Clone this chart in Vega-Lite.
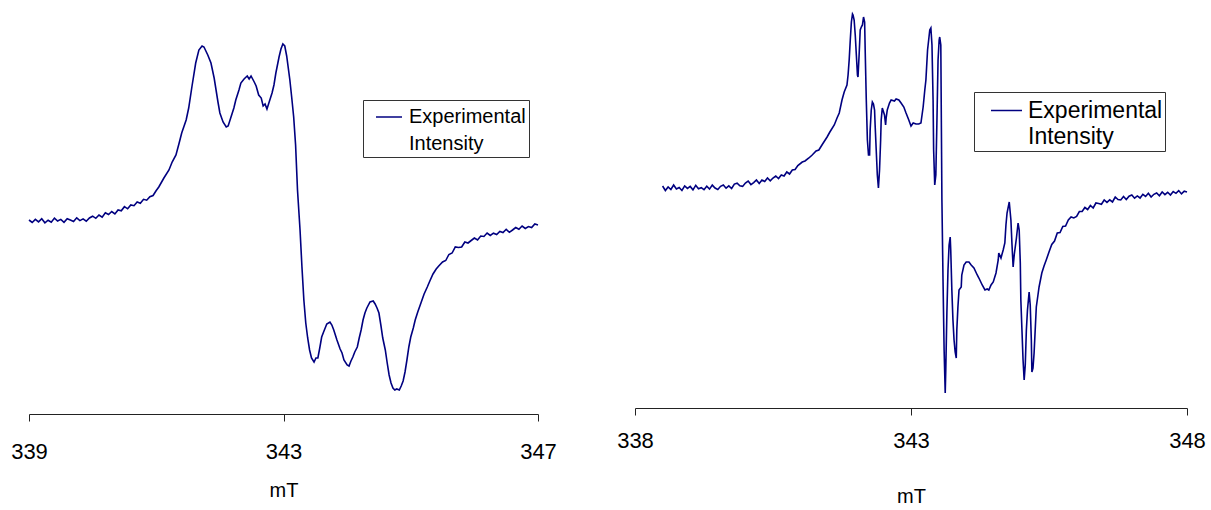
{
  "$schema": "https://vega.github.io/schema/vega-lite/v6.json",
  "padding": {"left": 10, "top": 8, "right": 0, "bottom": 0},
  "bounds": "flush",
  "spacing": 97,
  "config": {
    "view": {"stroke": null},
    "font": "Liberation Sans",
    "axis": {
      "grid": false,
      "domainColor": "#222",
      "tickColor": "#222",
      "domainWidth": 1,
      "tickWidth": 1,
      "tickSize": 7,
      "labelFont": "Liberation Sans",
      "labelFontSize": 22,
      "labelColor": "#000",
      "labelBaseline": "middle",
      "labelFlush": false,
      "titleFont": "Liberation Sans",
      "titleFontSize": 20,
      "titleFontWeight": "normal",
      "titleColor": "#000",
      "titleBaseline": "middle"
    },
    "legend": {
      "labelFont": "Liberation Sans",
      "labelColor": "#000",
      "labelLimit": 0,
      "symbolType": "stroke",
      "symbolStrokeWidth": 1.5,
      "strokeColor": "#333",
      "fillColor": "#fff",
      "cornerRadius": 0
    }
  },
  "datasets": {
    "spectrumA": [
      {"mT": 339.00, "intensity": 1}, {"mT": 339.05, "intensity": -1.5}, {"mT": 339.10, "intensity": 1.6}, {"mT": 339.15, "intensity": -0.9},
      {"mT": 339.20, "intensity": 2.2}, {"mT": 339.25, "intensity": -1.8}, {"mT": 339.30, "intensity": 0.8}, {"mT": 339.35, "intensity": -1.2},
      {"mT": 339.40, "intensity": 2.9}, {"mT": 339.45, "intensity": 0}, {"mT": 339.50, "intensity": 1.6}, {"mT": 339.55, "intensity": -1.3},
      {"mT": 339.60, "intensity": 2.3}, {"mT": 339.65, "intensity": 0.9}, {"mT": 339.70, "intensity": -0.5}, {"mT": 339.75, "intensity": 3.2},
      {"mT": 339.80, "intensity": 0.4}, {"mT": 339.85, "intensity": 2.1}, {"mT": 339.90, "intensity": -0.2}, {"mT": 339.95, "intensity": 3},
      {"mT": 340.00, "intensity": 4.8}, {"mT": 340.05, "intensity": 2.7}, {"mT": 340.10, "intensity": 6}, {"mT": 340.15, "intensity": 3.8},
      {"mT": 340.20, "intensity": 8.2}, {"mT": 340.25, "intensity": 6.5}, {"mT": 340.30, "intensity": 9.5}, {"mT": 340.35, "intensity": 7},
      {"mT": 340.40, "intensity": 11}, {"mT": 340.45, "intensity": 10.2}, {"mT": 340.50, "intensity": 14.3}, {"mT": 340.55, "intensity": 12.2},
      {"mT": 340.60, "intensity": 16}, {"mT": 340.65, "intensity": 15.3}, {"mT": 340.70, "intensity": 19}, {"mT": 340.75, "intensity": 17.7},
      {"mT": 340.80, "intensity": 21.7}, {"mT": 340.85, "intensity": 20.8}, {"mT": 340.90, "intensity": 24.3}, {"mT": 340.95, "intensity": 25.5},
      {"mT": 341.00, "intensity": 30.5},
      {"mT": 341.04, "intensity": 34}, {"mT": 341.12, "intensity": 43}, {"mT": 341.20, "intensity": 51}, {"mT": 341.25, "intensity": 59},
      {"mT": 341.31, "intensity": 66}, {"mT": 341.36, "intensity": 78}, {"mT": 341.40, "intensity": 88}, {"mT": 341.47, "intensity": 101},
      {"mT": 341.51, "intensity": 113}, {"mT": 341.56, "intensity": 134}, {"mT": 341.62, "intensity": 158}, {"mT": 341.67, "intensity": 171},
      {"mT": 341.72, "intensity": 175}, {"mT": 341.75, "intensity": 174}, {"mT": 341.78, "intensity": 170}, {"mT": 341.81, "intensity": 166},
      {"mT": 341.86, "intensity": 158}, {"mT": 341.91, "intensity": 143}, {"mT": 341.94, "intensity": 131}, {"mT": 341.97, "intensity": 119},
      {"mT": 342.00, "intensity": 108}, {"mT": 342.05, "intensity": 99}, {"mT": 342.10, "intensity": 94}, {"mT": 342.13, "intensity": 95},
      {"mT": 342.17, "intensity": 103}, {"mT": 342.22, "intensity": 113}, {"mT": 342.25, "intensity": 121}, {"mT": 342.30, "intensity": 131},
      {"mT": 342.33, "intensity": 138}, {"mT": 342.38, "intensity": 142}, {"mT": 342.43, "intensity": 145}, {"mT": 342.46, "intensity": 142},
      {"mT": 342.49, "intensity": 145}, {"mT": 342.54, "intensity": 139}, {"mT": 342.57, "intensity": 135}, {"mT": 342.61, "intensity": 126},
      {"mT": 342.65, "intensity": 123}, {"mT": 342.68, "intensity": 115}, {"mT": 342.71, "intensity": 117}, {"mT": 342.74, "intensity": 112},
      {"mT": 342.77, "intensity": 118}, {"mT": 342.82, "intensity": 128}, {"mT": 342.85, "intensity": 136}, {"mT": 342.88, "intensity": 148},
      {"mT": 342.93, "intensity": 164}, {"mT": 342.96, "intensity": 172}, {"mT": 342.99, "intensity": 177}, {"mT": 343.02, "intensity": 175},
      {"mT": 343.05, "intensity": 165}, {"mT": 343.10, "intensity": 141}, {"mT": 343.13, "intensity": 123}, {"mT": 343.16, "intensity": 104},
      {"mT": 343.19, "intensity": 76}, {"mT": 343.22, "intensity": 31}, {"mT": 343.26, "intensity": -9}, {"mT": 343.29, "intensity": -46},
      {"mT": 343.32, "intensity": -79}, {"mT": 343.35, "intensity": -102}, {"mT": 343.38, "intensity": -117}, {"mT": 343.41, "intensity": -129},
      {"mT": 343.44, "intensity": -137}, {"mT": 343.48, "intensity": -141}, {"mT": 343.51, "intensity": -137}, {"mT": 343.54, "intensity": -137},
      {"mT": 343.57, "intensity": -127}, {"mT": 343.60, "intensity": -116}, {"mT": 343.63, "intensity": -111}, {"mT": 343.68, "intensity": -103},
      {"mT": 343.73, "intensity": -101}, {"mT": 343.76, "intensity": -104}, {"mT": 343.79, "intensity": -109}, {"mT": 343.84, "intensity": -119},
      {"mT": 343.89, "intensity": -128}, {"mT": 343.92, "intensity": -132}, {"mT": 343.95, "intensity": -139}, {"mT": 344.00, "intensity": -144},
      {"mT": 344.03, "intensity": -145}, {"mT": 344.06, "intensity": -140}, {"mT": 344.09, "intensity": -136}, {"mT": 344.12, "intensity": -131},
      {"mT": 344.16, "intensity": -126}, {"mT": 344.19, "intensity": -117}, {"mT": 344.22, "intensity": -109}, {"mT": 344.25, "intensity": -99},
      {"mT": 344.28, "intensity": -92}, {"mT": 344.31, "intensity": -87}, {"mT": 344.36, "intensity": -81}, {"mT": 344.41, "intensity": -80},
      {"mT": 344.44, "intensity": -83}, {"mT": 344.47, "intensity": -87}, {"mT": 344.50, "intensity": -92}, {"mT": 344.53, "intensity": -104},
      {"mT": 344.56, "intensity": -117}, {"mT": 344.60, "intensity": -129}, {"mT": 344.63, "intensity": -142}, {"mT": 344.66, "intensity": -154},
      {"mT": 344.69, "intensity": -162}, {"mT": 344.72, "intensity": -167}, {"mT": 344.75, "intensity": -169}, {"mT": 344.78, "intensity": -168},
      {"mT": 344.82, "intensity": -169}, {"mT": 344.85, "intensity": -165}, {"mT": 344.88, "intensity": -160}, {"mT": 344.91, "intensity": -151},
      {"mT": 344.94, "intensity": -139}, {"mT": 344.97, "intensity": -126}, {"mT": 345.00, "intensity": -116}, {"mT": 345.04, "intensity": -107},
      {"mT": 345.07, "intensity": -99}, {"mT": 345.11, "intensity": -91}, {"mT": 345.16, "intensity": -82}, {"mT": 345.21, "intensity": -73},
      {"mT": 345.26, "intensity": -66}, {"mT": 345.30, "intensity": -60}, {"mT": 345.35, "intensity": -53}, {"mT": 345.40, "intensity": -48},
      {"mT": 345.44, "intensity": -45},
      {"mT": 345.50, "intensity": -41}, {"mT": 345.55, "intensity": -39.5}, {"mT": 345.60, "intensity": -33.5}, {"mT": 345.65, "intensity": -32},
      {"mT": 345.70, "intensity": -26}, {"mT": 345.75, "intensity": -26.5}, {"mT": 345.80, "intensity": -26}, {"mT": 345.85, "intensity": -21},
      {"mT": 345.90, "intensity": -22}, {"mT": 345.95, "intensity": -19.5}, {"mT": 346.00, "intensity": -17}, {"mT": 346.05, "intensity": -19},
      {"mT": 346.10, "intensity": -15}, {"mT": 346.15, "intensity": -15.5}, {"mT": 346.20, "intensity": -12}, {"mT": 346.25, "intensity": -14.5},
      {"mT": 346.30, "intensity": -12.2}, {"mT": 346.35, "intensity": -13.5}, {"mT": 346.40, "intensity": -10.5}, {"mT": 346.45, "intensity": -11.5},
      {"mT": 346.50, "intensity": -8.3}, {"mT": 346.55, "intensity": -11.3}, {"mT": 346.60, "intensity": -9}, {"mT": 346.65, "intensity": -6.5},
      {"mT": 346.70, "intensity": -8.3}, {"mT": 346.75, "intensity": -5}, {"mT": 346.80, "intensity": -7.5}, {"mT": 346.85, "intensity": -5.5},
      {"mT": 346.90, "intensity": -6.5}, {"mT": 346.95, "intensity": -3}, {"mT": 347.00, "intensity": -4}
    ],
    "spectrumB": [
      {"mT": 338.50, "intensity": 1}, {"mT": 338.55, "intensity": -3.5}, {"mT": 338.60, "intensity": 0}, {"mT": 338.65, "intensity": -2.5},
      {"mT": 338.70, "intensity": 2}, {"mT": 338.75, "intensity": -2}, {"mT": 338.80, "intensity": -0.5}, {"mT": 338.85, "intensity": -3.5},
      {"mT": 338.90, "intensity": 1.1}, {"mT": 338.95, "intensity": -1.4}, {"mT": 339.00, "intensity": 0.6}, {"mT": 339.05, "intensity": -2.8},
      {"mT": 339.10, "intensity": 1.7}, {"mT": 339.15, "intensity": -1.8}, {"mT": 339.20, "intensity": -0.7}, {"mT": 339.25, "intensity": -2.7},
      {"mT": 339.30, "intensity": 0.8}, {"mT": 339.35, "intensity": -2.1}, {"mT": 339.40, "intensity": 1.9}, {"mT": 339.45, "intensity": -1},
      {"mT": 339.50, "intensity": -2.5}, {"mT": 339.55, "intensity": 0.7}, {"mT": 339.60, "intensity": 2}, {"mT": 339.65, "intensity": -1.2},
      {"mT": 339.70, "intensity": 1.1}, {"mT": 339.75, "intensity": -1.5}, {"mT": 339.80, "intensity": 2.9}, {"mT": 339.85, "intensity": 3.8},
      {"mT": 339.90, "intensity": 1.2}, {"mT": 339.95, "intensity": 0.6}, {"mT": 340.00, "intensity": 4}, {"mT": 340.05, "intensity": 5.9},
      {"mT": 340.10, "intensity": 2.4}, {"mT": 340.15, "intensity": 4.4}, {"mT": 340.20, "intensity": 7}, {"mT": 340.25, "intensity": 3.5},
      {"mT": 340.30, "intensity": 7}, {"mT": 340.35, "intensity": 5.5}, {"mT": 340.40, "intensity": 9}, {"mT": 340.45, "intensity": 6.2},
      {"mT": 340.50, "intensity": 9}, {"mT": 340.55, "intensity": 11}, {"mT": 340.60, "intensity": 8.5}, {"mT": 340.65, "intensity": 12},
      {"mT": 340.70, "intensity": 11}, {"mT": 340.75, "intensity": 15}, {"mT": 340.80, "intensity": 13}, {"mT": 340.85, "intensity": 17},
      {"mT": 340.90, "intensity": 17.5}, {"mT": 340.95, "intensity": 21.5},
      {"mT": 341.03, "intensity": 25}, {"mT": 341.08, "intensity": 26}, {"mT": 341.15, "intensity": 29}, {"mT": 341.21, "intensity": 32},
      {"mT": 341.28, "intensity": 36}, {"mT": 341.33, "intensity": 37}, {"mT": 341.41, "intensity": 44}, {"mT": 341.48, "intensity": 50},
      {"mT": 341.53, "intensity": 55}, {"mT": 341.61, "intensity": 62}, {"mT": 341.66, "intensity": 69}, {"mT": 341.70, "intensity": 74},
      {"mT": 341.75, "intensity": 87}, {"mT": 341.79, "intensity": 95}, {"mT": 341.84, "intensity": 102}, {"mT": 341.86, "intensity": 112},
      {"mT": 341.88, "intensity": 127}, {"mT": 341.90, "intensity": 147}, {"mT": 341.92, "intensity": 165}, {"mT": 341.94, "intensity": 173},
      {"mT": 341.95, "intensity": 172}, {"mT": 341.97, "intensity": 167}, {"mT": 341.99, "intensity": 152}, {"mT": 342.01, "intensity": 132},
      {"mT": 342.03, "intensity": 112}, {"mT": 342.04, "intensity": 110}, {"mT": 342.06, "intensity": 132}, {"mT": 342.08, "intensity": 157},
      {"mT": 342.10, "intensity": 160}, {"mT": 342.12, "intensity": 162}, {"mT": 342.14, "intensity": 170}, {"mT": 342.16, "intensity": 165},
      {"mT": 342.17, "intensity": 137}, {"mT": 342.19, "intensity": 87}, {"mT": 342.21, "intensity": 47}, {"mT": 342.23, "intensity": 32},
      {"mT": 342.25, "intensity": 32}, {"mT": 342.26, "intensity": 57}, {"mT": 342.28, "intensity": 77}, {"mT": 342.30, "intensity": 85},
      {"mT": 342.32, "intensity": 83}, {"mT": 342.34, "intensity": 77}, {"mT": 342.35, "intensity": 62}, {"mT": 342.37, "intensity": 37},
      {"mT": 342.39, "intensity": 12}, {"mT": 342.41, "intensity": -1}, {"mT": 342.43, "intensity": 17}, {"mT": 342.45, "intensity": 47},
      {"mT": 342.46, "intensity": 67}, {"mT": 342.48, "intensity": 79}, {"mT": 342.52, "intensity": 72}, {"mT": 342.54, "intensity": 62},
      {"mT": 342.55, "intensity": 69}, {"mT": 342.57, "intensity": 77}, {"mT": 342.61, "intensity": 84}, {"mT": 342.64, "intensity": 87},
      {"mT": 342.70, "intensity": 86}, {"mT": 342.73, "intensity": 88}, {"mT": 342.78, "intensity": 87}, {"mT": 342.82, "intensity": 84},
      {"mT": 342.87, "intensity": 80}, {"mT": 342.91, "intensity": 74}, {"mT": 342.96, "intensity": 67}, {"mT": 343.00, "intensity": 61},
      {"mT": 343.04, "intensity": 64}, {"mT": 343.09, "intensity": 63}, {"mT": 343.14, "intensity": 63}, {"mT": 343.18, "intensity": 64},
      {"mT": 343.22, "intensity": 80}, {"mT": 343.25, "intensity": 97}, {"mT": 343.27, "intensity": 107}, {"mT": 343.30, "intensity": 137},
      {"mT": 343.32, "intensity": 147}, {"mT": 343.34, "intensity": 157}, {"mT": 343.36, "intensity": 159}, {"mT": 343.38, "intensity": 142},
      {"mT": 343.40, "intensity": 87}, {"mT": 343.41, "intensity": 37}, {"mT": 343.43, "intensity": 2}, {"mT": 343.45, "intensity": 12},
      {"mT": 343.47, "intensity": 67}, {"mT": 343.49, "intensity": 127}, {"mT": 343.51, "intensity": 147}, {"mT": 343.52, "intensity": 150},
      {"mT": 343.54, "intensity": 142}, {"mT": 343.56, "intensity": -13}, {"mT": 343.58, "intensity": -93}, {"mT": 343.60, "intensity": -163},
      {"mT": 343.62, "intensity": -206}, {"mT": 343.63, "intensity": -183}, {"mT": 343.65, "intensity": -126}, {"mT": 343.67, "intensity": -83},
      {"mT": 343.69, "intensity": -58}, {"mT": 343.71, "intensity": -50}, {"mT": 343.72, "intensity": -63}, {"mT": 343.74, "intensity": -103},
      {"mT": 343.76, "intensity": -133}, {"mT": 343.78, "intensity": -153}, {"mT": 343.80, "intensity": -165}, {"mT": 343.82, "intensity": -171},
      {"mT": 343.83, "intensity": -143}, {"mT": 343.85, "intensity": -120}, {"mT": 343.87, "intensity": -103}, {"mT": 343.91, "intensity": -100},
      {"mT": 343.92, "intensity": -88}, {"mT": 343.96, "intensity": -78}, {"mT": 344.00, "intensity": -75}, {"mT": 344.05, "intensity": -75},
      {"mT": 344.09, "intensity": -78}, {"mT": 344.14, "intensity": -81}, {"mT": 344.20, "intensity": -88}, {"mT": 344.23, "intensity": -91},
      {"mT": 344.29, "intensity": -98}, {"mT": 344.34, "intensity": -103}, {"mT": 344.38, "intensity": -102}, {"mT": 344.41, "intensity": -103},
      {"mT": 344.45, "intensity": -98}, {"mT": 344.49, "intensity": -95}, {"mT": 344.54, "intensity": -86}, {"mT": 344.58, "intensity": -73},
      {"mT": 344.59, "intensity": -66}, {"mT": 344.63, "intensity": -71}, {"mT": 344.67, "intensity": -63}, {"mT": 344.70, "intensity": -56},
      {"mT": 344.72, "intensity": -38}, {"mT": 344.74, "intensity": -26}, {"mT": 344.78, "intensity": -15}, {"mT": 344.79, "intensity": -21},
      {"mT": 344.81, "intensity": -33}, {"mT": 344.83, "intensity": -58}, {"mT": 344.85, "intensity": -80}, {"mT": 344.87, "intensity": -68},
      {"mT": 344.91, "intensity": -51}, {"mT": 344.94, "intensity": -36}, {"mT": 344.96, "intensity": -43}, {"mT": 344.98, "intensity": -76},
      {"mT": 344.99, "intensity": -113}, {"mT": 345.01, "intensity": -143}, {"mT": 345.03, "intensity": -173}, {"mT": 345.05, "intensity": -193},
      {"mT": 345.07, "intensity": -178}, {"mT": 345.09, "intensity": -143}, {"mT": 345.11, "intensity": -123}, {"mT": 345.14, "intensity": -105},
      {"mT": 345.16, "intensity": -118}, {"mT": 345.18, "intensity": -153}, {"mT": 345.19, "intensity": -185}, {"mT": 345.21, "intensity": -181},
      {"mT": 345.23, "intensity": -166}, {"mT": 345.27, "intensity": -120}, {"mT": 345.30, "intensity": -108}, {"mT": 345.32, "intensity": -100},
      {"mT": 345.37, "intensity": -86}, {"mT": 345.41, "intensity": -79}, {"mT": 345.45, "intensity": -73}, {"mT": 345.50, "intensity": -65},
      {"mT": 345.55, "intensity": -57.5}, {"mT": 345.60, "intensity": -54}, {"mT": 345.65, "intensity": -46}, {"mT": 345.70, "intensity": -45.5},
      {"mT": 345.75, "intensity": -39.5}, {"mT": 345.80, "intensity": -39}, {"mT": 345.85, "intensity": -33}, {"mT": 345.90, "intensity": -30},
      {"mT": 345.95, "intensity": -31}, {"mT": 346.00, "intensity": -29.5}, {"mT": 346.05, "intensity": -24.5}, {"mT": 346.10, "intensity": -24.5},
      {"mT": 346.15, "intensity": -20.5}, {"mT": 346.20, "intensity": -22.5}, {"mT": 346.25, "intensity": -18.5}, {"mT": 346.30, "intensity": -21},
      {"mT": 346.35, "intensity": -16}, {"mT": 346.40, "intensity": -16.5}, {"mT": 346.45, "intensity": -17.3}, {"mT": 346.50, "intensity": -13},
      {"mT": 346.55, "intensity": -15.4}, {"mT": 346.60, "intensity": -12.8}, {"mT": 346.65, "intensity": -15}, {"mT": 346.70, "intensity": -10},
      {"mT": 346.75, "intensity": -12.5}, {"mT": 346.80, "intensity": -13}, {"mT": 346.85, "intensity": -9.5}, {"mT": 346.90, "intensity": -12.5},
      {"mT": 346.95, "intensity": -9.2}, {"mT": 347.00, "intensity": -8}, {"mT": 347.05, "intensity": -11.2}, {"mT": 347.10, "intensity": -8.9},
      {"mT": 347.15, "intensity": -11}, {"mT": 347.20, "intensity": -7.3}, {"mT": 347.25, "intensity": -9.5}, {"mT": 347.30, "intensity": -6.3},
      {"mT": 347.35, "intensity": -10}, {"mT": 347.40, "intensity": -7.3}, {"mT": 347.45, "intensity": -6}, {"mT": 347.50, "intensity": -8.7},
      {"mT": 347.55, "intensity": -5}, {"mT": 347.60, "intensity": -7.6}, {"mT": 347.65, "intensity": -5.3}, {"mT": 347.70, "intensity": -8.1},
      {"mT": 347.75, "intensity": -4.5}, {"mT": 347.80, "intensity": -6.3}, {"mT": 347.85, "intensity": -3.6}, {"mT": 347.90, "intensity": -6.9},
      {"mT": 347.95, "intensity": -4.2}, {"mT": 348.00, "intensity": -5}
    ]
  },
  "hconcat": [
    {
      "width": 509,
      "height": 406,
      "data": {"name": "spectrumA"},
      "mark": {"type": "line", "strokeWidth": 1.6},
      "encoding": {
        "x": {
          "field": "mT", "type": "quantitative",
          "scale": {"domain": [339, 347], "nice": false, "zero": false},
          "axis": {"values": [339, 343, 347], "title": "mT", "labelPadding": 30, "titleY": 76}
        },
        "y": {
          "field": "intensity", "type": "quantitative",
          "scale": {"domain": [-193, 213], "nice": false, "zero": false},
          "axis": null
        },
        "color": {
          "datum": "Experimental Intensity", "type": "nominal",
          "scale": {"range": ["#000080"]},
          "legend": {
            "orient": "none", "legendX": 334, "legendY": 92, "title": null,
            "labelExpr": "['Experimental', 'Intensity']",
            "labelFontSize": 20, "labelOffset": 6,
            "symbolSize": 676, "symbolOffset": 9, "padding": 3,
            "encode": {
              "labels": {"update": {"lineHeight": {"value": 27}}},
              "entries": {"update": {"width": {"value": 169}, "fill": {"value": "transparent"}}}
            }
          }
        }
      }
    },
    {
      "width": 552,
      "height": 400,
      "data": {"name": "spectrumB"},
      "mark": {"type": "line", "strokeWidth": 1.6},
      "encoding": {
        "x": {
          "field": "mT", "type": "quantitative",
          "scale": {"domain": [338, 348], "nice": false, "zero": false},
          "axis": {"values": [338, 343, 348], "title": "mT", "labelPadding": 25, "titleY": 88}
        },
        "y": {
          "field": "intensity", "type": "quantitative",
          "scale": {"domain": [-221, 179], "nice": false, "zero": false},
          "axis": null
        },
        "color": {
          "datum": "Experimental Intensity", "type": "nominal",
          "scale": {"range": ["#000080"]},
          "legend": {
            "orient": "none", "legendX": 339, "legendY": 84, "title": null,
            "labelExpr": "['Experimental', 'Intensity']",
            "labelFontSize": 23, "labelOffset": 5,
            "symbolSize": 961, "symbolOffset": 14, "padding": 2,
            "encode": {
              "labels": {"update": {"lineHeight": {"value": 26}}},
              "entries": {"update": {"width": {"value": 197}, "fill": {"value": "transparent"}}}
            }
          }
        }
      }
    }
  ],
  "resolve": {"scale": {"color": "independent"}, "legend": {"color": "independent"}}
}
